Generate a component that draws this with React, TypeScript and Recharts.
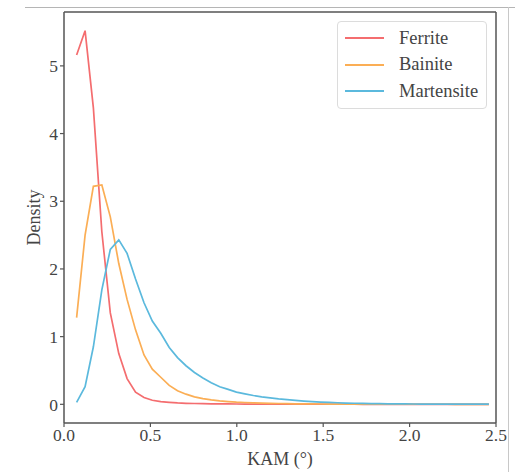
import { LineChart, Line, XAxis, YAxis, Legend, ReferenceLine } from 'recharts'

const kam = [
  0.073, 0.122, 0.17, 0.219, 0.268, 0.317, 0.365, 0.414, 0.463, 0.511,
  0.56, 0.609, 0.657, 0.706, 0.755, 0.804, 0.852, 0.901, 0.95, 0.998,
  1.047, 1.096, 1.144, 1.193, 1.242, 1.291, 1.339, 1.388, 1.437, 1.485,
  1.534, 1.583, 1.631, 1.68, 1.729, 1.778, 1.826, 1.875, 1.924, 1.972,
  2.021, 2.07, 2.118, 2.167, 2.216, 2.265, 2.313, 2.362, 2.411, 2.459,
]

const ferrite = [
  5.16, 5.52, 4.38, 2.55, 1.35, 0.75, 0.38, 0.18, 0.1, 0.06,
  0.04, 0.03, 0.02, 0.015, 0.012, 0.01, 0.008, 0.007, 0.006, 0.005,
  0.004, 0.004, 0.003, 0.003, 0.002, 0.002, 0.002, 0.001, 0.001, 0.001,
  0.001, 0.001, 0.001, 0.001, 0, 0, 0, 0, 0, 0,
  0, 0, 0, 0, 0, 0, 0, 0, 0, 0,
]

const bainite = [
  1.28, 2.5, 3.22, 3.24, 2.77, 2.08, 1.55, 1.1, 0.73, 0.52,
  0.4, 0.28, 0.2, 0.15, 0.11, 0.085, 0.065, 0.05, 0.04, 0.032,
  0.027, 0.022, 0.018, 0.015, 0.012, 0.01, 0.008, 0.007, 0.006, 0.005,
  0.004, 0.004, 0.003, 0.003, 0.002, 0.002, 0.002, 0.002, 0.001, 0.001,
  0.001, 0.001, 0.001, 0.001, 0.001, 0, 0, 0, 0, 0,
]

const martensite = [
  0.03, 0.26, 0.85, 1.69, 2.29, 2.43, 2.23, 1.85, 1.5, 1.23,
  1.05, 0.84, 0.69, 0.57, 0.47, 0.39, 0.32, 0.26, 0.22, 0.18,
  0.155, 0.13, 0.11, 0.095, 0.08, 0.068, 0.057, 0.048, 0.04, 0.033,
  0.028, 0.023, 0.019, 0.016, 0.013, 0.011, 0.009, 0.008, 0.007, 0.006,
  0.005, 0.004, 0.004, 0.003, 0.003, 0.002, 0.002, 0.002, 0.002, 0.002,
]

const xTicks = [0, 0.5, 1, 1.5, 2, 2.5]
const yTicks = [0, 1, 2, 3, 4, 5]
const xDomain = [0, 2.5]
const yDomain = [-0.276, 5.796]

const series = [
  { key: 'ferrite', name: 'Ferrite', color: '#f46d6f' },
  { key: 'bainite', name: 'Bainite', color: '#fbae55' },
  { key: 'martensite', name: 'Martensite', color: '#5bb9dd' },
]

const data = kam.map((x, i) => ({
  kam: x,
  ferrite: ferrite[i],
  bainite: bainite[i],
  martensite: martensite[i],
}))

const font = '"Liberation Serif", "Times New Roman", serif'
const ink = '#444'
const frame = '#555'

function LegendBox() {
  return (
    <div
      style={{
        border: '1px solid #dcdcdc',
        borderRadius: 4,
        background: 'rgba(255,255,255,0.85)',
        padding: '3px 0',
        width: 148,
        fontFamily: font,
        fontSize: 18.5,
        color: ink,
      }}
    >
      {series.map((s) => (
        <div key={s.key} style={{ display: 'flex', alignItems: 'center', height: 26.5 }}>
          <div style={{ width: 39, height: 2, background: s.color, marginLeft: 7, marginRight: 15 }} />
          <span>{s.name}</span>
        </div>
      ))}
    </div>
  )
}

export default function App() {
  return (
    <div style={{ position: 'absolute', left: 0, top: 0, width: 515, height: 472, background: '#fff' }}>
      <div style={{ position: 'absolute', left: 25, top: 7, width: 490, height: 1, background: '#b5b5b5' }} />
      <div style={{ position: 'absolute', left: 508, top: 7, width: 1, height: 465, background: '#c8c8c8' }} />
      <LineChart
        width={515}
        height={472}
        data={data}
        margin={{ top: 12, right: 19, left: 0, bottom: 0 }}
      >
        <XAxis
          dataKey="kam"
          type="number"
          domain={xDomain}
          ticks={xTicks}
          allowDataOverflow
          tickFormatter={(v: number) => v.toFixed(1)}
          height={49}
          tickSize={4}
          tick={{ fill: ink, fontFamily: font, fontSize: 17.5 }}
          axisLine={{ stroke: frame, strokeWidth: 1.5 }}
          tickLine={{ stroke: frame, strokeWidth: 1.2 }}
          label={{ value: 'KAM (°)', position: 'insideBottom', offset: 7, fill: ink, fontFamily: font, fontSize: 18 }}
        />
        <YAxis
          type="number"
          domain={yDomain}
          ticks={yTicks}
          allowDataOverflow
          width={64}
          tickSize={4}
          tick={{ fill: ink, fontFamily: font, fontSize: 17.5 }}
          axisLine={{ stroke: frame, strokeWidth: 1.5 }}
          tickLine={{ stroke: frame, strokeWidth: 1.2 }}
          label={{ value: 'Density', angle: -90, position: 'center', dx: 2, fill: ink, fontFamily: font, fontSize: 18 }}
        />
        <ReferenceLine y={yDomain[1]} stroke={frame} strokeWidth={1.5} />
        <ReferenceLine x={xDomain[1]} stroke={frame} strokeWidth={1.5} />
        <Legend
          layout="vertical"
          align="center"
          verticalAlign="middle"
          content={() => <LegendBox />}
          wrapperStyle={{ position: 'absolute', left: 337, top: 21, width: 150 }}
        />
        {series.map((s) => (
          <Line
            key={s.key}
            dataKey={s.key}
            name={s.name}
            type="linear"
            stroke={s.color}
            strokeWidth={1.7}
            dot={false}
            activeDot={false}
            isAnimationActive={false}
          />
        ))}
      </LineChart>
    </div>
  )
}
